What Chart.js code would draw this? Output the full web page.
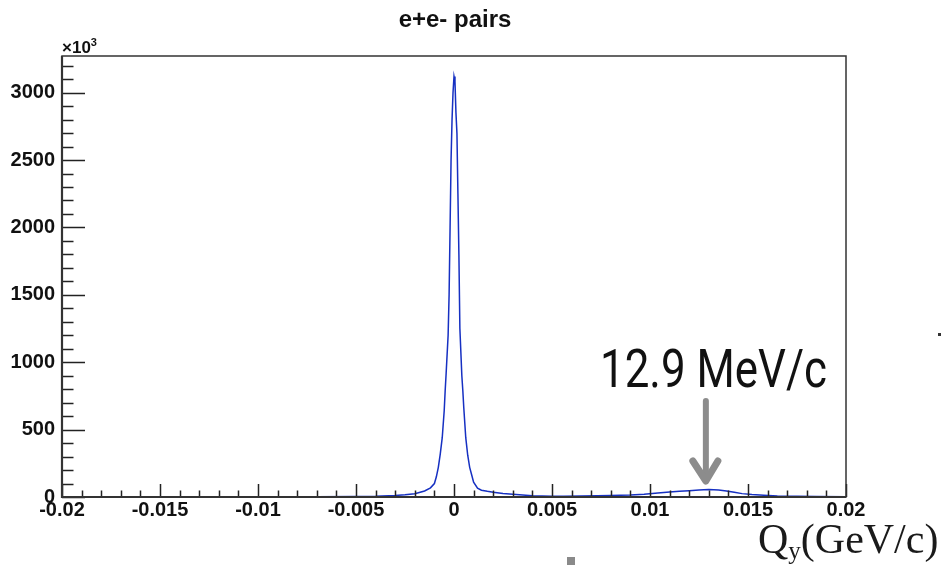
<!DOCTYPE html>
<html lang="en">
<head>
    <meta charset="UTF-8">
    <title>e+e- pairs</title>
    <script src="https://cdn.jsdelivr.net/npm/chart.js"></script>
    <style>
        body {
            margin: 0;
            background: #fff;
        }
        #wrap {
            width: 941px;
            height: 565px;
        }
    </style>
</head>
<body>
    <div id="wrap"><canvas id="qyChart" width="941" height="565"></canvas></div>

    <script>
        // Q_y in GeV/c, counts in units of 10^3
        const qy = [-0.020, -0.015, -0.010, -0.007, -0.005, -0.004, -0.003, -0.0025, -0.002, -0.0015,
            -0.0012, -0.0010, -0.0009, -0.0008, -0.0007, -0.0006, -0.0005, -0.00045, -0.0004, -0.0003,
            -0.00025, -0.0002, -0.00015, -0.0001, -0.00005, 0, 0.00005, 0.0001, 0.00015, 0.0002,
            0.00025, 0.0003, 0.0004, 0.00045, 0.0005, 0.0006, 0.0007, 0.0008, 0.0009, 0.0010,
            0.0012, 0.0014, 0.0017, 0.002, 0.0025, 0.003, 0.004, 0.005, 0.0056, 0.0065,
            0.0073, 0.008, 0.009, 0.0097, 0.0104, 0.011, 0.0115, 0.012, 0.0125, 0.013,
            0.0135, 0.0139, 0.0143, 0.0147, 0.0152, 0.0158, 0.0165, 0.0175, 0.0185, 0.020];
        const counts = [0.5, 1, 1.5, 2, 3, 5, 11, 16, 24, 45,
            68, 100, 150, 220, 320, 440, 640, 790, 920, 1200,
            1500, 2000, 2500, 2800, 3000, 3120, 3080, 2850, 2700, 2250,
            1800, 1250, 900, 790, 660, 440, 310, 220, 165, 110,
            65, 50, 42, 35, 26, 20, 10, 6, 5, 7,
            9, 11, 15, 21, 30, 38, 42, 47, 52, 55,
            52, 45, 35, 25, 18, 13, 8, 5, 3, 2];

        const xTicks = [-0.02, -0.015, -0.01, -0.005, 0, 0.005, 0.01, 0.015, 0.02];
        const xTickLabels = ['-0.02', '-0.015', '-0.01', '-0.005', '0', '0.005', '0.01', '0.015', '0.02'];
        const yTicks = [0, 500, 1000, 1500, 2000, 2500, 3000];

        const chartTitle = 'e+e- pairs';
        const peakLabel = '12.9 MeV/c';
        const peakQ = 0.01285;

        const sans = '"Liberation Sans", Arial, sans-serif';

        // ROOT style frame: box + inward major/minor ticks + annotations
        const framePlugin = {
            id: 'frame',
            afterDraw(chart) {
                const ctx = chart.ctx;
                const a = chart.chartArea;
                const xs = chart.scales.x;
                const ys = chart.scales.y;
                ctx.save();

                // title
                ctx.fillStyle = '#111';
                ctx.textAlign = 'center';
                ctx.textBaseline = 'alphabetic';
                ctx.font = 'bold 24px ' + sans;
                ctx.fillText(chartTitle, 455, 27);

                // ticks
                ctx.strokeStyle = '#222';
                ctx.lineWidth = 1.5;
                ctx.beginPath();
                for (let i = 0; i <= 40; i++) {
                    const v = -0.02 + i * 0.001;
                    const px = Math.round(xs.getPixelForValue(v)) + 0.5;
                    const len = (i % 5 === 0) ? 13 : 6.5;
                    ctx.moveTo(px, a.bottom);
                    ctx.lineTo(px, a.bottom - len);
                }
                for (let v = 0; v <= 3200; v += 100) {
                    const py = Math.round(ys.getPixelForValue(v)) + 0.5;
                    const len = (v % 500 === 0) ? 23 : 11.5;
                    ctx.moveTo(a.left, py);
                    ctx.lineTo(a.left + len, py);
                }
                ctx.stroke();

                // frame
                ctx.strokeStyle = '#333';
                ctx.lineWidth = 1.5;
                ctx.strokeRect(a.left, a.top, a.right - a.left, a.bottom - a.top);
                ctx.lineWidth = 2.2;
                ctx.beginPath();
                ctx.moveTo(a.left, a.top);
                ctx.lineTo(a.left, a.bottom);
                ctx.lineTo(a.right, a.bottom);
                ctx.stroke();

                // x10^3
                ctx.textAlign = 'left';
                ctx.fillStyle = '#111';
                ctx.font = 'bold 17px ' + sans;
                ctx.fillText('\u00d710', a.left, a.top - 3);
                const w10 = ctx.measureText('\u00d710').width;
                ctx.font = 'bold 11px ' + sans;
                ctx.fillText('3', a.left + w10, a.top - 10);

                // arrow to the side peak
                const ax = xs.getPixelForValue(peakQ);
                ctx.strokeStyle = '#8c8c8c';
                ctx.lineCap = 'round';
                ctx.lineJoin = 'round';
                ctx.lineWidth = 6;
                ctx.beginPath();
                ctx.moveTo(ax, 401);
                ctx.lineTo(ax, 478);
                ctx.stroke();
                ctx.lineWidth = 7;
                ctx.beginPath();
                ctx.moveTo(ax - 13, 461);
                ctx.lineTo(ax, 481);
                ctx.lineTo(ax + 12, 461);
                ctx.stroke();

                // peak label, condensed
                ctx.fillStyle = '#111';
                ctx.font = '54px Roboto, ' + sans;
                const tw = ctx.measureText(peakLabel).width;
                ctx.save();
                ctx.translate(600, 387);
                ctx.scale(227 / tw, 1);
                ctx.fillText(peakLabel, 0, 0);
                ctx.restore();

                // axis title Q_y(GeV/c)
                const serif = '"Liberation Serif", "Times New Roman", serif';
                ctx.fillStyle = '#1a1a1a';
                ctx.font = '42px ' + serif;
                ctx.fillText('Q', 758, 553);
                let cx = 758 + ctx.measureText('Q').width;
                ctx.font = '25px ' + serif;
                ctx.fillText('y', cx, 559);
                cx += ctx.measureText('y').width;
                ctx.font = '42px ' + serif;
                ctx.fillText('(GeV/c)', cx, 553);

                // bits of the slide around the plot
                ctx.fillStyle = '#8a8a8a';
                ctx.fillRect(567, 557, 8, 8);
                ctx.fillStyle = '#333';
                ctx.fillRect(938, 333, 3, 3);

                ctx.restore();
            }
        };

        const ctx = document.getElementById('qyChart').getContext('2d');

        new Chart(ctx, {
            type: 'line',
            data: {
                datasets: [{
                    label: chartTitle,
                    data: qy.map((q, i) => ({ x: q, y: counts[i] })),
                    borderColor: '#1630c2',
                    borderWidth: 1.5,
                    pointRadius: 0,
                    tension: 0,
                    fill: false
                }]
            },
            options: {
                responsive: false,
                animation: false,
                devicePixelRatio: 1,
                layout: {
                    padding: { left: 0, right: 95, top: 56, bottom: 0 }
                },
                plugins: {
                    legend: { display: false },
                    tooltip: { enabled: false },
                    title: { display: false }
                },
                scales: {
                    x: {
                        type: 'linear',
                        min: -0.02,
                        max: 0.02,
                        grid: { display: false, drawTicks: false },
                        border: { display: false },
                        afterBuildTicks: (scale) => {
                            scale.ticks = xTicks.map(v => ({ value: v }));
                        },
                        afterFit: (scale) => { scale.height = 68; },
                        ticks: {
                            autoSkip: false,
                            maxRotation: 0,
                            padding: 1,
                            color: '#111',
                            font: { family: sans, size: 20, weight: 'bold' },
                            callback: (v, i) => xTickLabels[i]
                        }
                    },
                    y: {
                        min: 0,
                        max: 3272,
                        grid: { display: false, drawTicks: false },
                        border: { display: false },
                        afterBuildTicks: (scale) => {
                            scale.ticks = yTicks.map(v => ({ value: v }));
                        },
                        afterFit: (scale) => { scale.width = 62; },
                        ticks: {
                            padding: 7,
                            color: '#111',
                            font: { family: sans, size: 20, weight: 'bold' },
                            callback: (v) => String(v)
                        }
                    }
                }
            },
            plugins: [framePlugin]
        });
    </script>
</body>
</html>
